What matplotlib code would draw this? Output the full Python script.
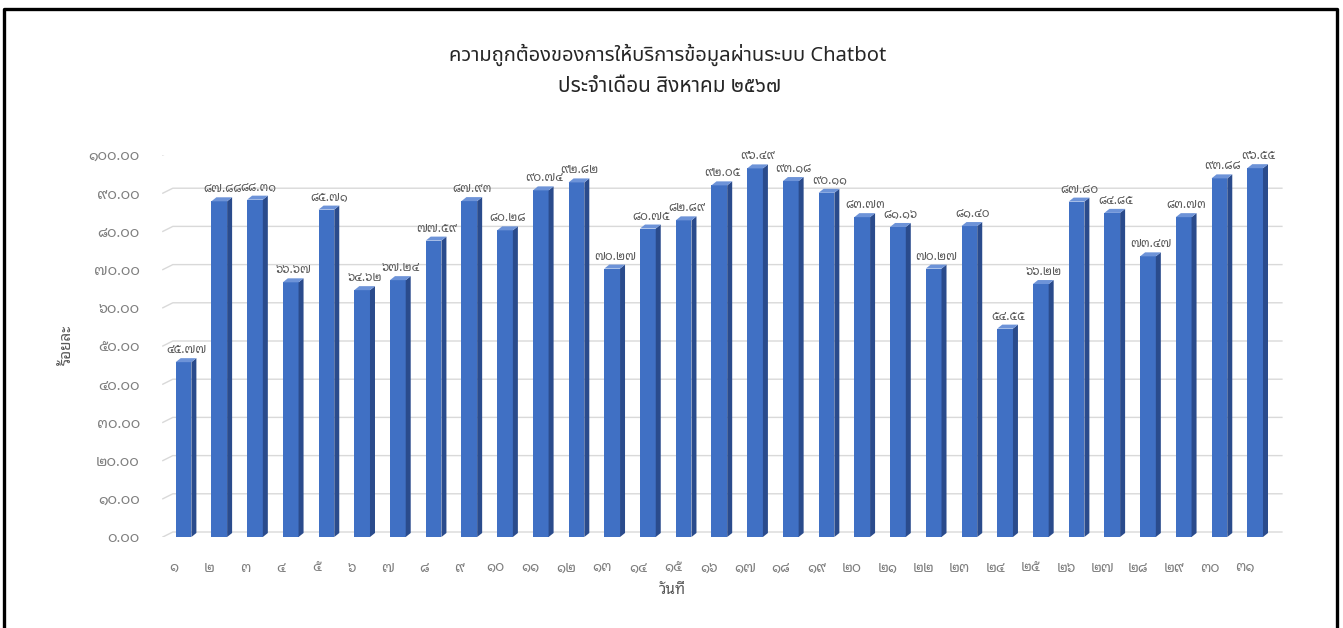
import matplotlib
matplotlib.use("Agg")
import matplotlib.pyplot as plt
from matplotlib.patches import Polygon
from matplotlib.lines import Line2D
from matplotlib.transforms import ScaledTranslation, IdentityTransform

THAI = str.maketrans("0123456789", "๐๑๒๓๔๕๖๗๘๙")

def th(s):
    return str(s).translate(THAI)

days = list(range(1, 32))
accuracy = [45.77, 87.88, 88.31, 66.67, 85.71, 64.62, 67.24, 77.59, 87.93, 80.28,
            90.74, 92.82, 70.27, 80.75, 82.89, 92.05, 96.49, 93.18, 90.11, 83.73,
            81.16, 70.27, 81.40, 54.55, 66.22, 87.80, 84.85, 73.47, 83.73, 93.88,
            96.55]
y_ticks = list(range(0, 101, 10))

title_1 = "ความถูกต้องของการให้บริการข้อมูลผ่านระบบ Chatbot"
title_2 = "ประจำเดือน สิงหาคม ๒๕๖๗"
x_label = "วันที่"
y_label = "ร้อยละ"

FONT_T = ["Noto Sans Thai", "DejaVu Sans"]
FONT_N = ["Noto Sans Thai Looped", "DejaVu Sans"]

W, H = 1343, 628
fig = plt.figure(figsize=(W / 100, H / 100), dpi=100)
fig.patch.set_facecolor("white")

# plot frame: front plane, category 1 at x=1
x0_px, unit_px = 162.1, 35.72
ax = fig.add_axes([x0_px / W, (H - 537) / H, 31.4 * unit_px / W, 382 / H])
ax.set_xlim(0.4, 31.8)
ax.set_ylim(0, 100)
for s in ax.spines.values():
    s.set_visible(False)
ax.set_facecolor("none")

fig.canvas.draw()
to_disp = ax.transData.transform

# depth offsets of the 3-D look, in pixels
gx, gy = 10, 5      # back wall
bx, by = 5, 4       # bar depth

# gridlines on the back wall with the short floor/side diagonals
for v in y_ticks:
    fx, fy = to_disp((0.42, v))
    ex, _ = to_disp((31.75, v))
    ax.add_line(Line2D([fx, fx + gx, ex], [fy, fy + gy, fy + gy],
                       transform=IdentityTransform(), color="#d9d9d9",
                       lw=1.0, zorder=1))

# 3-D columns
bar_w = 0.44
front_c, side_c, top_c = "#4070C4", "#2A4B8C", "#6D93D8"
for d, v in zip(days, accuracy):
    ax.bar(d, v, width=bar_w, color=front_c, edgecolor="none", zorder=3)
    lx, by0 = to_disp((d - bar_w / 2, 0))
    rx, ty = to_disp((d + bar_w / 2, v))
    side = [(rx, by0), (rx + bx, by0 + by), (rx + bx, ty + by), (rx, ty)]
    top = [(lx, ty), (rx, ty), (rx + bx, ty + by), (lx + bx, ty + by)]
    ax.add_patch(Polygon(side, closed=True, transform=IdentityTransform(),
                         facecolor=side_c, edgecolor="none", zorder=3))
    ax.add_patch(Polygon(top, closed=True, transform=IdentityTransform(),
                         facecolor=top_c, edgecolor="none", zorder=3))
    ax.annotate(th(f"{v:.2f}"), xy=(d, v), xytext=(3, 6),
                textcoords="offset pixels", ha="center", va="bottom",
                fontsize=8.5, color="#595959", family=FONT_N, zorder=4)

# ticks
ax.set_xticks(days)
ax.set_xticklabels([th(d) for d in days], family=FONT_N, fontsize=10,
                   color="#7f7f7f")
ax.set_yticks(y_ticks)
ax.set_yticklabels([th(f"{v:.2f}") for v in y_ticks], family=FONT_N,
                   fontsize=10.5, color="#7f7f7f")
ax.tick_params(axis="x", length=0, pad=17)
ax.tick_params(axis="y", length=0, pad=16)
shift = ScaledTranslation(-10 / 100, 0, fig.dpi_scale_trans)
for lbl in ax.get_xticklabels():
    lbl.set_transform(lbl.get_transform() + shift)

# axis titles
fig.text(672 / W, 1 - 590 / H, x_label, ha="center", va="center",
         fontsize=11, color="#595959", family=FONT_N)
fig.text(68 / W, 1 - 345 / H, y_label, ha="center", va="center",
         rotation=90, fontsize=11, color="#595959", family=FONT_N)

# chart title
fig.text(668 / W, 1 - 55 / H, title_1, ha="center", va="center",
         fontsize=14.5, color="#262626", family=FONT_T)
fig.text(670 / W, 1 - 86 / H, title_2, ha="center", va="center",
         fontsize=15, fontweight="medium", color="#262626", family=FONT_T)

# outer frame (left, top, right)
fig.add_artist(Line2D([4 / W, 4 / W, 1337 / W, 1337 / W],
                      [0, 1 - 9 / H, 1 - 9 / H, 0],
                      transform=fig.transFigure, color="black", lw=2.4))

fig.savefig("out.png", dpi=100, facecolor="white")
